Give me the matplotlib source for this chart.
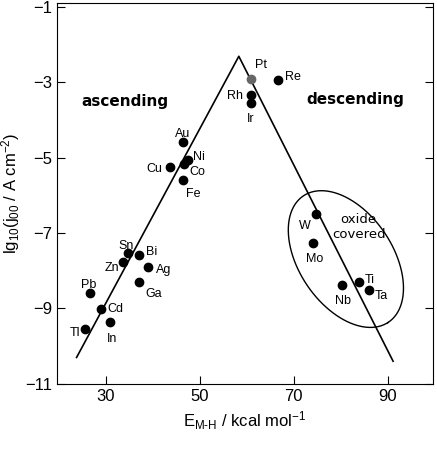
import numpy as np
import matplotlib
matplotlib.use("Agg")
import matplotlib.pyplot as plt

plt.rcParams['font.family'] = ['Liberation Sans', 'DejaVu Sans']
plt.rcParams['mathtext.fontset'] = 'custom'
plt.rcParams['mathtext.rm'] = 'Liberation Sans'
plt.rcParams['mathtext.it'] = 'Liberation Sans'

metals = ['Au','Ni','Co','Cu','Fe','Sn','Bi','Zn','Ag','Ga','Pb','Cd','Tl','In',
          'Pt','Re','Rh','Ir','W','Mo','Nb','Ti','Ta']
energy = [46.4,47.4,46.6,43.6,46.4,34.7,37.0,33.6,38.9,37.0,26.6,28.9,25.5,30.9,
          60.9,66.6,60.9,60.9,74.7,74.0,80.2,83.8,86.0]
lgj = [-4.58,-5.05,-5.16,-5.26,-5.60,-7.53,-7.58,-7.77,-7.90,-8.29,-8.60,-9.02,-9.54,-9.36,
       -2.91,-2.94,-3.33,-3.56,-6.49,-7.25,-8.37,-8.29,-8.52]
offs = {'Au':(-6,6),'Ni':(4,2),'Co':(4,-6),'Cu':(-17,-1),'Fe':(2,-10),'Sn':(-7,5),
        'Bi':(5,2),'Zn':(-13,-4),'Ag':(6,-2),'Ga':(5,-9),'Pb':(-6,6),'Cd':(5,0),
        'Tl':(-11,-3),'In':(-2,-12),'Pt':(3,10),'Re':(5,2),'Rh':(-17,-1),'Ir':(-3,-11),
        'W':(-12,-9),'Mo':(-5,-12),'Nb':(-5,-12),'Ti':(4,1),'Ta':(4,-4)}
volcano_x = [23.8, 58.3, 91.1]
volcano_y = [-10.3, -2.31, -10.4]

fig = plt.figure(figsize=(4.37, 4.5), dpi=100)
ax = fig.add_axes([0.130, 0.147, 0.861, 0.846])
ax.set_xlim(19.6, 99.6)
ax.set_ylim(-11, -0.9)

ax.plot(volcano_x, volcano_y, color='black', lw=1.2, zorder=1)
for m, x, y in zip(metals, energy, lgj):
    c = '#666666' if m == 'Pt' else 'black'
    ax.plot(x, y, 'o', color=c, ms=6, zorder=3)
    ax.annotate(m, (x, y), xytext=offs[m], textcoords='offset points', fontsize=9, ha='left', va='center')

t = np.linspace(0, 2*np.pi, 200)
a, b, ang = 77, 47, np.deg2rad(-57)
cx, cy = 346, 259
px = cx + a*np.cos(t)*np.cos(ang) - b*np.sin(t)*np.sin(ang)
py = cy - (a*np.cos(t)*np.sin(ang) + b*np.sin(t)*np.cos(ang))
ex = 30 + (px - 106)/4.7
ey = -5 - (py - 156)/38.3
ax.plot(ex, ey, color='black', lw=1.0)

ax.text(34, -3.5, 'ascending', fontsize=11, ha='center', va='center', family='DejaVu Sans', weight='semibold')
ax.text(83, -3.45, 'descending', fontsize=11, ha='center', va='center', family='DejaVu Sans', weight='semibold')
ax.text(83.8, -6.85, 'oxide\ncovered', fontsize=9.5, ha='center', va='center', family='DejaVu Sans')

ax.set_xticks([30, 50, 70, 90])
ax.set_yticks([-1, -3, -5, -7, -9, -11])
ax.tick_params(direction='in', length=6, labelsize=12, right=True, top=False)
ax.set_xlabel(r'E$_{\mathrm{M\text{-}H}}$ / kcal mol$^{-1}$', fontsize=12)
ax.set_ylabel(r'lg$_{10}$(j$_{00}$ / A cm$^{-2}$)', fontsize=12, labelpad=2)
fig.savefig('out.png', dpi=100)
